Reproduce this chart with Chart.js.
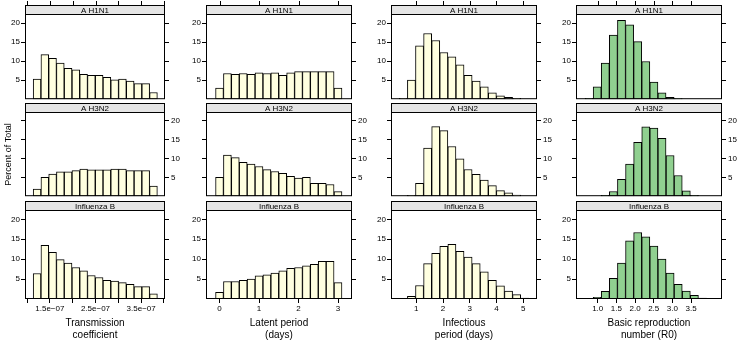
<!DOCTYPE html>
<html>
<head>
<meta charset="utf-8">
<script src="https://cdn.jsdelivr.net/npm/chart.js@4.4.1/dist/chart.umd.min.js"></script>
<style>
  body { margin: 0; background: #fff; }
  #wrap { position: relative; width: 740px; height: 340px; overflow: hidden; }
  #wrap canvas { position: absolute; }
</style>
</head>
<body>
<div id="wrap"></div>
<script>
// rows (strains) and columns (parameters)
const strains = ["A H1N1", "A H3N2", "Influenza B"];
const paramTitles = [
  ["Transmission", "coefficient"],
  ["Latent period", "(days)"],
  ["Infectious", "period (days)"],
  ["Basic reproduction", "number (R0)"]
];

// transmission coefficient, bin centres in units of 1e-07
const transBins = [1.22, 1.39, 1.56, 1.73, 1.90, 2.07, 2.24, 2.41, 2.58, 2.75, 2.92, 3.09, 3.26, 3.43, 3.60, 3.77];
const transH1N1 = [5.25, 11.7, 10.7, 9.5, 8.1, 7.7, 6.5, 6.25, 6.25, 5.75, 5.1, 5.25, 4.75, 4.1, 4.1, 1.75];
const transH3N2 = [1.9, 5.0, 5.9, 6.5, 6.5, 6.8, 7.2, 7.0, 7.0, 7.0, 7.2, 7.2, 6.8, 6.8, 6.8, 2.7];
const transFluB = [6.4, 13.5, 11.7, 9.9, 9.0, 7.9, 7.1, 5.9, 5.4, 4.7, 4.5, 4.1, 3.7, 3.1, 3.1, 1.3];

// latent period (days)
const latentBins = [0.0, 0.2, 0.4, 0.6, 0.8, 1.0, 1.2, 1.4, 1.6, 1.8, 2.0, 2.2, 2.4, 2.6, 2.8, 3.0];
const latentH1N1 = [2.9, 6.75, 6.5, 6.75, 6.5, 6.9, 6.75, 6.9, 6.25, 6.9, 7.25, 7.25, 7.25, 7.25, 7.25, 2.9];
const latentH3N2 = [5.0, 10.9, 10.25, 9.0, 8.5, 7.9, 7.05, 6.55, 6.1, 5.3, 4.8, 5.0, 3.45, 3.45, 3.1, 1.2];
const latentFluB = [1.7, 4.4, 4.4, 4.7, 5.0, 5.85, 6.1, 6.5, 7.1, 7.7, 7.9, 8.3, 8.7, 9.45, 9.45, 4.1];

// infectious period (days)
const infBins = [0.515, 0.818, 1.121, 1.424, 1.727, 2.030, 2.333, 2.636, 2.939, 3.242, 3.545, 3.848, 4.151, 4.454, 4.757, 5.060];
const infH1N1 = [0.25, 5.0, 14.0, 17.25, 15.4, 12.25, 11.1, 9.0, 6.25, 4.75, 3.25, 1.7, 0.9, 0.5, 0.2, null];
const infH3N2 = [null, 0.2, 3.45, 12.8, 18.5, 17.4, 13.2, 9.9, 7.1, 5.8, 4.3, 2.8, 1.5, 0.9, 0.3, null];
const infFluB = [null, 0.7, 3.4, 8.9, 11.5, 13.2, 13.7, 12.0, 10.5, 8.9, 6.8, 4.7, 3.3, 2.0, 1.1, 0.25];

// basic reproduction number
const r0Bins = [0.769, 0.986, 1.203, 1.420, 1.637, 1.854, 2.071, 2.288, 2.505, 2.722, 2.939, 3.156, 3.373, 3.590, 3.807];
const r0H1N1 = [0.2, 3.25, 9.5, 16.8, 20.7, 19.5, 15.1, 9.9, 4.5, 1.7, 0.5, 0.15, null, null, null];
const r0H3N2 = [null, null, 0.2, 1.25, 4.5, 8.5, 14.3, 18.4, 18.1, 15.4, 10.8, 5.5, 1.45, 0.2, null];
const r0FluB = [null, 0.4, 1.9, 5.2, 9.0, 14.6, 16.7, 15.6, 13.3, 10.0, 6.5, 3.7, 2.0, 0.9, 0.2];

// axis ticks
const transTicks = [1, 1.5, 2, 2.5, 3, 3.5, 4];
const transLabels = ["", "1.5e\u221207", "", "2.5e\u221207", "", "3.5e\u221207", ""];
const latentTicks = [0, 1, 2, 3];
const latentLabels = ["0", "1", "2", "3"];
const infTicks = [1, 2, 3, 4, 5];
const infLabels = ["1", "2", "3", "4", "5"];
const r0Ticks = [1.0, 1.5, 2.0, 2.5, 3.0, 3.5];
const r0Labels = ["1.0", "1.5", "2.0", "2.5", "3.0", "3.5"];
const yTicks = [5, 10, 15, 20];

const bins = [transBins, latentBins, infBins, r0Bins];
const values = [
  [transH1N1, transH3N2, transFluB],
  [latentH1N1, latentH3N2, latentFluB],
  [infH1N1, infH3N2, infFluB],
  [r0H1N1, r0H3N2, r0FluB]
];
const xTicks = [transTicks, latentTicks, infTicks, r0Ticks];
const xLabels = [transLabels, latentLabels, infLabels, r0Labels];
const xLimits = [[0.956, 4.022], [-0.342, 3.354], [0.052, 5.52], [0.418, 4.33]];
const fills = ["#FFFFE0", "#FFFFE0", "#FFFFE0", "#90D090"];

// layout of the lattice
const colLeft = [25, 206, 391, 576];
const colRight = [165, 352, 537, 722];
const plotTop = [15, 113, 211];
const plotBottom = [103, 201, 299];
const STRIP = 10;

Chart.defaults.font.family = "'Liberation Sans', Arial, sans-serif";
Chart.defaults.color = "#000";

const stripPlugin = {
  id: "strip",
  afterDraw(chart, args, opts) {
    const { ctx, chartArea: a } = chart;
    const top = a.top - STRIP;
    const w = a.right - a.left;
    ctx.save();
    ctx.fillStyle = "#e5e5e5";
    ctx.fillRect(a.left, top, w, STRIP);
    ctx.strokeStyle = "#000";
    ctx.lineWidth = 1;
    ctx.strokeRect(a.left + 0.5, top + 0.5, w - 1, a.bottom - top - 1);
    ctx.beginPath();
    ctx.moveTo(a.left, a.top - 0.5);
    ctx.lineTo(a.right, a.top - 0.5);
    ctx.stroke();
    ctx.fillStyle = "#000";
    ctx.font = "8px 'Liberation Sans', Arial, sans-serif";
    ctx.textAlign = "center";
    ctx.textBaseline = "middle";
    ctx.fillText(opts.label, (a.left + a.right) / 2, top + STRIP / 2 + 0.5);
    // top axis ticks, first row only
    if (opts.topTicks) {
      ctx.beginPath();
      opts.ticks.forEach((v) => {
        const x = Math.round(chart.scales.x.getPixelForValue(v)) + 0.5;
        ctx.moveTo(x, top - 4);
        ctx.lineTo(x, top);
      });
      ctx.stroke();
    }
    ctx.restore();
  }
};

function yAxis(position, showLabels, r, c) {
  const withTitle = position === "left" && r === 1 && c === 0;
  return {
    position: position,
    min: 0,
    max: 22.1,
    afterBuildTicks: (axis) => { axis.ticks = yTicks.map((v) => ({ value: v })); },
    afterFit: (axis) => { axis.width = 30; },
    grid: { drawOnChartArea: false, drawTicks: true, tickLength: 4, color: "#000" },
    border: { display: false },
    ticks: { display: showLabels, padding: position === "left" ? 1 : 2, font: { size: 8 }, color: "#000" },
    title: {
      display: withTitle,
      text: "Percent of Total",
      color: "#000",
      font: { size: 9 },
      padding: { top: 8.6, bottom: 0 }
    }
  };
}

const wrap = document.getElementById("wrap");

function makePanel(r, c) {
  const w = colRight[c] - colLeft[c] + 60;
  const bottomSpace = r === 2 ? 42 : 2;
  const h = plotBottom[r] - plotTop[r] + 16 + bottomSpace;
  const canvas = document.createElement("canvas");
  canvas.width = w;
  canvas.height = h;
  canvas.style.left = colLeft[c] - 30 + "px";
  canvas.style.top = plotTop[r] - 16 + "px";
  canvas.style.width = w + "px";
  canvas.style.height = h + "px";
  wrap.appendChild(canvas);

  new Chart(canvas, {
    type: "bar",
    data: {
      datasets: [{
        data: bins[c].map((x, i) => ({ x: x, y: values[c][r][i] })),
        backgroundColor: fills[c],
        borderColor: "#000",
        borderWidth: 1,
        borderSkipped: false,
        barPercentage: 1,
        categoryPercentage: 1,
        yAxisID: "y"
      }]
    },
    options: {
      responsive: false,
      animation: false,
      devicePixelRatio: 1,
      layout: { padding: { top: 16, bottom: r === 2 ? 0 : 2, left: 0, right: 0 } },
      plugins: {
        legend: { display: false },
        tooltip: { enabled: false },
        strip: { label: strains[r], topTicks: r === 0, ticks: xTicks[c] }
      },
      scales: {
        x: {
          type: "linear",
          min: xLimits[c][0],
          max: xLimits[c][1],
          bounds: "data",
          offset: false,
          display: r === 2,
          grid: { drawOnChartArea: false, drawTicks: true, tickLength: 4, color: "#000", offset: false },
          border: { display: false },
          ticks: {
            autoSkip: false,
            maxRotation: 0,
            padding: 1,
            font: { size: 8 },
            color: "#000",
            callback: (v, i) => xLabels[c][i]
          },
          afterBuildTicks: (axis) => { axis.ticks = xTicks[c].map((v) => ({ value: v })); },
          afterFit: (axis) => { axis.height = r === 2 ? 42 : 0; },
          title: {
            display: true,
            text: paramTitles[c],
            color: "#000",
            font: { size: 10 },
            padding: { top: 0, bottom: 0 }
          }
        },
        y: yAxis("left", r !== 1, r, c),
        y2: yAxis("right", r === 1, r, c)
      }
    },
    plugins: [stripPlugin]
  });
}

for (let r = 0; r < 3; r++) {
  for (let c = 0; c < 4; c++) {
    makePanel(r, c);
  }
}
</script>
</body>
</html>
